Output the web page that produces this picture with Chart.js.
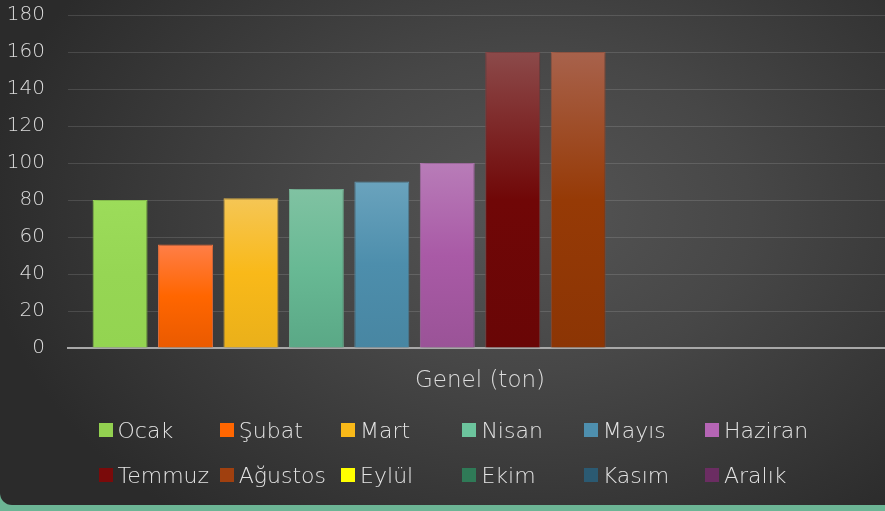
<!DOCTYPE html>
<html>
<head>
<meta charset="utf-8">
<script src="https://cdn.jsdelivr.net/npm/chart.js@4/dist/chart.umd.min.js"></script>
<style>
  html, body { margin: 0; padding: 0; width: 885px; height: 511px; overflow: hidden; background: #6cb595; }
  #wrap { position: absolute; left: 0; top: 0; width: 885px; height: 505px; overflow: hidden;
    border-bottom-left-radius: 12px;
    background: radial-gradient(ellipse 62% 78% at 60% 42%, #555555 0%, #474747 40%, #2b2b2b 100%); }
  #cv { position: absolute; left: 0; top: -20px; }
  #legend { position: absolute; left: 0; top: 0; width: 885px; height: 505px; pointer-events: none;
    font-family: "DejaVu Sans", sans-serif; font-weight: 300; font-size: 22px; color: #e3e3e3; }
  .li { position: absolute; display: flex; align-items: center; white-space: nowrap; height: 26px; }
  .bx { width: 14px; height: 14px; margin-right: 5px; flex: none; }
</style>
</head>
<body>
<div id="wrap">
  <canvas id="cv" width="892" height="531"></canvas>
  <div id="legend"></div>
</div>
<script>
// ---- data ----
const categories = ['Genel (ton)'];
const months = ['Ocak', 'Şubat', 'Mart', 'Nisan', 'Mayıs', 'Haziran', 'Temmuz', 'Ağustos', 'Eylül', 'Ekim', 'Kasım', 'Aralık'];
const values = [80, 56, 81, 86, 90, 100, 160, 160, null, null, null, null];
const yTicks = [0, 20, 40, 60, 80, 100, 120, 140, 160, 180];

// ---- styles ----
const baseColors = ['#96d654', '#ff6600', '#f9b919', '#68b994', '#4d8eac', '#a95aa6', '#700707', '#963a06', '#ffff00', '#2f7a57', '#2b5a72', '#6b2d62'];
const topColors  = ['#9cdc5a', '#ff7e48', '#f5c655', '#80c2a2', '#6aa3bd', '#b87cb8', '#8c4a4a', '#a8624c', '#ffff66', '#4a9070', '#477690', '#85487c'];
const botColors  = ['#93d451', '#ea5a00', '#eab01a', '#5aa886', '#4886a2', '#9a5397', '#690606', '#8c3504', '#f0f000', '#2a6e4f', '#264f66', '#612858'];
const legendColors = ['#92d050', '#ff6600', '#f9b919', '#6cc49d', '#4e8fae', '#b565b5', '#7a0a0a', '#a0400f', '#ffff00', '#2f7a57', '#2b5a72', '#6b2d62'];

function barGradient(i) {
  return function (ctx) {
    const chart = ctx.chart;
    const area = chart.chartArea;
    if (!area || ctx.raw == null) return baseColors[i];
    const ys = chart.scales.y;
    const top = ys.getPixelForValue(ctx.raw);
    const bottom = ys.getPixelForValue(0);
    if (!isFinite(top) || !isFinite(bottom) || bottom - top < 1) return baseColors[i];
    const g = chart.ctx.createLinearGradient(0, top, 0, bottom);
    g.addColorStop(0, topColors[i]);
    g.addColorStop(0.5, baseColors[i]);
    g.addColorStop(1, botColors[i]);
    return g;
  };
}

const datasets = months.map((m, i) => ({
  label: m,
  data: [values[i]],
  backgroundColor: barGradient(i),
  borderColor: topColors[i],
  borderWidth: 1,
  borderSkipped: 'bottom',
  categoryPercentage: 0.953,
  barPercentage: 0.84
}));

const shadowPlugin = {
  id: 'barShadow',
  beforeDatasetsDraw(chart) {
    const c = chart.ctx;
    c.save();
    c.shadowColor = 'rgba(0,0,0,0.35)';
    c.shadowBlur = 6;
    c.shadowOffsetX = 1;
    c.shadowOffsetY = 0;
  },
  afterDatasetsDraw(chart) { chart.ctx.restore(); }
};

const yFont = { family: 'DejaVu Sans', size: 20, weight: 300 };
const xFont = { family: 'DejaVu Sans', size: 23, weight: 300 };

new Chart(document.getElementById('cv'), {
  type: 'bar',
  data: { labels: categories, datasets },
  plugins: [shadowPlugin],
  options: {
    responsive: false,
    animation: false,
    layout: { padding: { top: 0, bottom: 97.4, left: 0, right: 0 } },
    plugins: { legend: { display: false }, tooltip: { enabled: false } },
    scales: {
      x: {
        grid: { display: false, drawTicks: false },
        border: { display: true, color: '#a8a8a8', width: 2 },
        ticks: { color: '#dcdcdc', font: xFont, padding: 19 }
      },
      y: {
        min: 0, max: 180,
        afterFit(scale) { scale.width = 68; },
        afterBuildTicks(scale) { scale.ticks = yTicks.map(v => ({ value: v })); },
        grid: { color: 'rgba(255,255,255,0.13)', lineWidth: 1, drawTicks: false },
        border: { display: false },
        ticks: { color: '#dcdcdc', font: yFont, padding: 23 }
      }
    }
  }
});

// ---- HTML legend built from the data arrays ----
const legend = document.getElementById('legend');
months.forEach((m, i) => {
  const row = Math.floor(i / 6), col = i % 6;
  const el = document.createElement('div');
  el.className = 'li';
  el.style.left = (98.5 + col * 121.3) + 'px';
  el.style.top = (row === 0 ? 430 : 475) - 13 + 'px';
  const b = document.createElement('span');
  b.className = 'bx';
  b.style.background = legendColors[i];
  const t = document.createElement('span');
  t.textContent = m;
  el.appendChild(b); el.appendChild(t);
  legend.appendChild(el);
});
</script>
</body>
</html>
